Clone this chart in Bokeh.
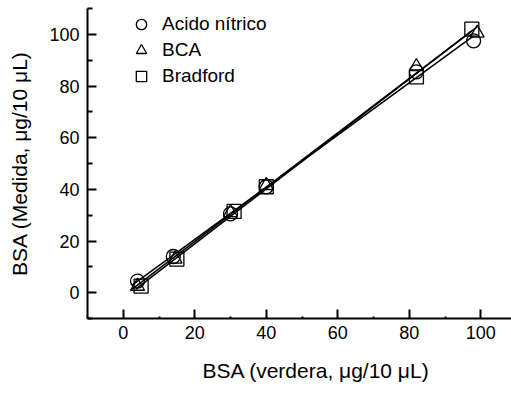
import numpy as np
from bokeh.plotting import figure
from bokeh.models import FixedTicker, Legend, LegendItem, Title, Range1d
from bokeh.embed import file_html
from bokeh.resources import INLINE

series_names = ["Acido nítrico", "BCA", "Bradford"]
markers = ["circle", "triangle", "square"]

x_acido = [4, 14, 30, 40, 82, 98]
y_acido = [4.5, 14, 30.5, 41, 85.5, 97.5]
x_bca = [4, 14.5, 30, 40, 82, 99]
y_bca = [2.5, 13, 31, 41.5, 87.5, 100.5]
x_brad = [5, 15, 31, 40, 82, 97.5]
y_brad = [2.5, 13, 31.5, 41, 83.5, 102]

x_ticks = [0, 20, 40, 60, 80, 100]
y_ticks = [0, 20, 40, 60, 80, 100]

FONT = "Liberation Sans"

p = figure(width=511, height=399, output_backend="svg", toolbar_location=None,
           x_range=Range1d(-10, 108.6), y_range=Range1d(-10, 110),
           min_border_left=87, min_border_right=0, min_border_top=8, min_border_bottom=81)
p.outline_line_color = None
p.grid.visible = False
p.background_fill_color = "white"

data = [(x_acido, y_acido), (x_bca, y_bca), (x_brad, y_brad)]
items = []
for (xs, ys), name, mk in zip(data, series_names, markers):
    xs_a = np.array(xs, dtype=float)
    ys_a = np.array(ys, dtype=float)
    k, b = np.polyfit(xs_a, ys_a, 1)
    xl = np.array([xs_a.min() - 1.5, xs_a.max()])
    p.line(xl, k * xl + b, line_color="black", line_width=1.6)
    r = p.scatter(xs, ys, marker=mk, size=14, fill_color=None,
                  line_color="black", line_width=1.3)
    items.append(LegendItem(label=name, renderers=[r]))

legend = Legend(items=items, location=(38, 229), border_line_color=None,
                background_fill_alpha=0, padding=5, spacing=0,
                glyph_width=32, glyph_height=26, label_height=26,
                label_standoff=5, label_text_font=FONT,
                label_text_font_size="19px", label_text_color="black")
p.add_layout(legend)

for ax in (p.xaxis[0], p.yaxis[0]):
    ax.axis_line_width = 2
    ax.major_tick_line_width = 2
    ax.minor_tick_line_width = 2
    ax.major_tick_in = 9
    ax.major_tick_out = 0
    ax.minor_tick_out = 0
    ax.major_label_text_font = FONT
    ax.major_label_text_font_size = "18px"
    ax.major_label_text_color = "black"
    ax.axis_label_text_font = FONT
    ax.axis_label_text_font_size = "21px"
    ax.axis_label_text_font_style = "normal"
    ax.axis_label_text_color = "black"

p.xaxis[0].ticker = FixedTicker(ticks=x_ticks, minor_ticks=[-10 + 20 * i for i in range(7)])
p.yaxis[0].ticker = FixedTicker(ticks=y_ticks, minor_ticks=[-10 + 20 * i for i in range(7)])
p.xaxis[0].minor_tick_in = 2
p.yaxis[0].minor_tick_in = 5
p.xaxis[0].major_label_standoff = 7
p.yaxis[0].major_label_standoff = 8
p.yaxis[0].axis_label = "BSA (Medida, μg/10 μL)"
p.yaxis[0].axis_label_standoff = 15

xtitle = Title(text="BSA (verdera, μg/10 μL)", align="left", offset=115,
               text_font=FONT, text_font_size="21px", text_font_style="normal",
               text_color="black", standoff=31)
p.add_layout(xtitle, "below")

open("out.html", "w").write(file_html(p, INLINE))
